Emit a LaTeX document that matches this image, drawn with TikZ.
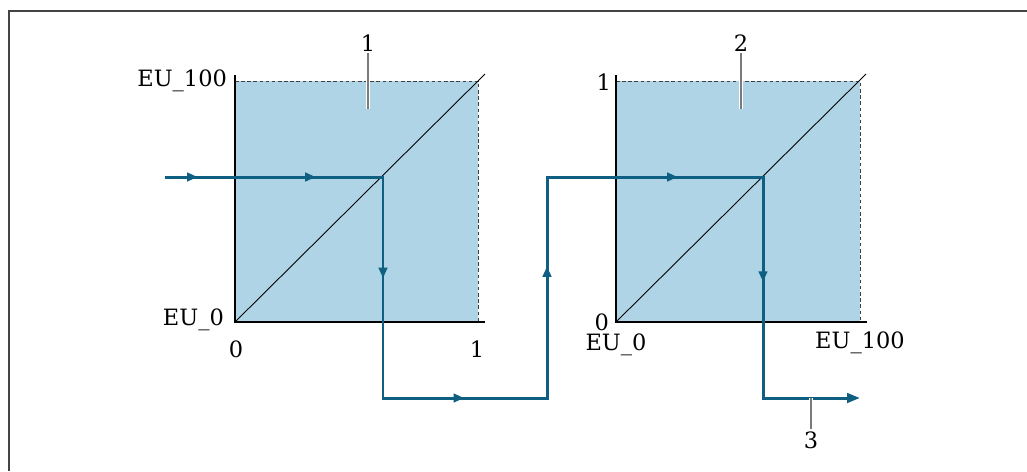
\documentclass[tikz,border=0pt]{standalone}
\usepackage{fontspec}
\setmainfont{DejaVu Serif}
\usetikzlibrary{arrows.meta, decorations.markings}
\definecolor{cflow}{HTML}{0F5F82}
\definecolor{cfill}{HTML}{AED4E6}
\definecolor{cgrey}{HTML}{7A7A7A}
\definecolor{cframe}{HTML}{444444}
\tikzset{
  every picture/.style={font=\fontsize{12.8}{15}\selectfont},
  flow/.style={draw=cflow, line width=1.7pt, line join=miter},
  midtips/.style={postaction={decorate, decoration={markings,
    mark=at position 0.024 with {\arrow{Triangle[length=2.1mm, width=1.7mm]}},
    mark=at position 0.111 with {\arrow{Triangle[length=2.1mm, width=1.7mm]}},
    mark=at position 0.235 with {\arrow{Triangle[length=2.1mm, width=1.7mm]}},
    mark=at position 0.383 with {\arrow{Triangle[length=2.1mm, width=1.7mm]}},
    mark=at position 0.541 with {\arrow{Triangle[length=2.1mm, width=1.7mm]}},
    mark=at position 0.703 with {\arrow{Triangle[length=2.1mm, width=1.7mm]}},
    mark=at position 0.843 with {\arrow{Triangle[length=2.1mm, width=1.7mm]}}}}},
  axis/.style={draw=black, line width=0.8pt},
  limit/.style={draw=black!75, line width=0.5pt, dash pattern=on 2pt off 1.5pt},
  diag/.style={draw=black, line width=0.5pt},
  leader/.style={draw=cgrey, line width=1.1pt, preaction={draw=white, line width=2.8pt}},
  lbl/.style={inner sep=1pt},
}

\begin{document}
\begin{tikzpicture}[x=0.02cm, y=-0.02cm]
  \useasboundingbox (0,0) rectangle (1027,471);
  \draw[cframe, line width=1.1pt] (9,471) -- (9,11) -- (1027,11);

  % first scaling: EU -> 0..1
  \fill[cfill] (235,322) rectangle (478,81);
  \draw[limit] (235,81) -- (478,81) -- (478,322);
  \draw[diag] (235,322) -- (485,74);
  \draw[axis] (235,75) -- (235,322) -- (485,322);
  \node[lbl, anchor=east] (hi1) at (229,81) {EU\_100};
  \node[lbl, anchor=east] (lo1) at (226,320) {EU\_0};
  \node[lbl] (x01) at (236,349) {0};
  \node[lbl] (x11) at (477,349) {1};

  % second scaling: 0..1 -> EU
  \fill[cfill] (616,322) rectangle (860,81);
  \draw[limit] (616,81) -- (860,81) -- (860,322);
  \draw[diag] (616,322) -- (866,74);
  \draw[axis] (616,75) -- (616,322) -- (867,322);
  \node[lbl, anchor=east] (hi2) at (613,82) {1};
  \node[lbl, anchor=east] (lo2) at (611,322) {0};
  \node[lbl] (x02) at (616,345) {EU\_0};
  \node[lbl] (x12) at (860,343) {EU\_100};

  % signal path
  \coordinate (in) at (165,177);
  \coordinate (k1) at (383,177);
  \coordinate (d1) at (383,398);
  \coordinate (d2) at (547,398);
  \coordinate (u2) at (547,177);
  \coordinate (k2) at (763,177);
  \coordinate (d3) at (763,398);
  \coordinate (out) at (860,398);
  \draw[flow, midtips, -{Triangle[length=2.6mm, width=1.9mm]}]
    (in) -- (k1) -- (d1) -- (d2) -- (u2) -- (k2) -- (d3) -- (out);

  % callouts
  \node[lbl] (c1) at (368,43) {1};
  \node[lbl] (c2) at (741,43) {2};
  \node[lbl] (c3) at (811,440) {3};
  \coordinate (c1end) at (368,109);
  \coordinate (c2end) at (741,109);
  \coordinate (c3end) at (811,398);
  \draw[leader] (c1) -- (c1end);
  \draw[leader] (c2) -- (c2end);
  \draw[leader] (c3) -- (c3end);
\end{tikzpicture}
\end{document}
